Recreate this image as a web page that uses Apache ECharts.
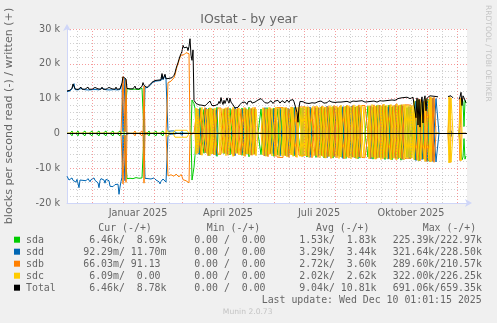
<!DOCTYPE html>
<html><head><meta charset="utf-8">
<script src="https://cdn.jsdelivr.net/npm/echarts@6/dist/echarts.min.js"></script>
<style>html,body{margin:0;padding:0;background:#F0F0F0;overflow:hidden}#c{width:497px;height:323px}</style>
</head><body><div id="c"></div>
<script>
// ---------- data (values in thousands of blocks/s, one value per day starting 2024-11-06) ----------
const startDay = Date.UTC(2024, 10, 6);
const tickLabels = ['Januar 2025', 'April 2025', 'Juli 2025', 'Oktober 2025'];
const tickDates = [Date.UTC(2025,0,16), Date.UTC(2025,3,16), Date.UTC(2025,6,16), Date.UTC(2025,9,16)];

const sdaW = [
0,0,0,0,0,0.7,0,0,0,0, 0,0.7,0,0,0,0,0,0,0.7,0, 0,0,0,0,0,0.7,0,0,0,0, 0,0,0.7,0,0,0,0,0,0,0.7,
0,0,0,0,0,0,0.7,0,0,0, 0,0,0,0.7,0,0,0,0,0,0,
12.9,12.7,12.8,12.7,12.6,12.8,12.7,12.7,12.9,12.7, 12.8,12.7,12.6,12.8,12.9,13.0,12.8,0.4,0,0,
0,0,0.7,0,0,0,0,0,0,0.7, 0,0,0,0,0,0,0.7,0,0,0, 0,0,0,0,0,0,0,0,0,0, 0,0,0,0,0,0,0,0,0,0,
0,0,0,0,0,9.6,9.3,8.5,7.2,0, 0,0,0,7.4,0,0,0,6.9,0,0, 0,0,7.3,0,0,0,7.1,0,0,0, 7.5,0,0,0,0,0,0,7.0,0,0,
0,0,0,7.2,7.4,0,0,0,0,0, 6.9,0,0,0,0,7.3,0,0,0,7.1, 0,0,7.5,0,0,0,0,7.0,0,0, 0,0,0,0,7.0,7.2,0,0,0,0,
7.4,0,0,0,6.9,0,0,7.3,0,0, 0,7.1,0,0,6.8,0,0,0,7.2,0, 0,0,0,7.0,0,0,0,7.4,0,0, 0,0,0,0,7.3,0,0,0,0,0,
7.5,0,0,0,7.1,0,0,0,0,7.3, 0,0,0,0,7.6,0,0,7.2,0,0, 0,0,7.4,0,0,0,7.7,0,0,0, 0,7.3,0,0,0,7.5,0,0,0,7.8,
0,0,0,7.4,0,0,0,0,7.6,0, 0,7.9,0,0,0,0,0,0,0,0, 0,7.8,0,0,0,0,7.5,0,0,0, 8.0,0,0,0,0,7.7,0,0,7.9,0,
0,0,8.1,0,0,7.6,0,0,0,0, 0,7.8,0,0,8.2,0,0,0,0,0, 7.4,0,0,0,7.6,0,0,0,9.2,0, 0,0,9.6,0,0,0,9.0,0,0,0,
0,9.8,0,0,0,0,0,0,0,0, 0,0,0,null,null,null,null,null,null,null,
null,0,0,0,0,0,0,null,null,null, null,null,0,0,0,10.0,9.0,2.0,9.5,8.7];
const sdaR = [
0,0,0,0,0,-0.7,0,0,0,0, 0,-0.7,0,0,0,0,0,0,-0.7,0, 0,0,0,0,0,-0.7,0,0,0,0, 0,0,-0.7,0,0,0,0,0,0,-0.7,
0,0,0,0,0,0,-0.7,0,0,0, 0,0,0,-0.7,0,0,0,0,0,0,
-13.0,-12.8,-13.1,-12.9,-13.2,-12.8,-13.0,-12.9,-13.1,-12.7, -13.0,-13.2,-12.9,-13.0,-13.1,-12.8,-13.0,-0.4,0,0,
0,0,-0.7,0,0,0,0,0,0,-0.7, 0,0,0,0,0,0,-0.7,0,0,0, 0,0,0,0,0,0,0,0,0,0, 0,0,0,0,0,0,0,0,0,0,
0,0,0,0,0,-13.4,-13.0,-9.7,-6.3,0, 0,0,0,-6.1,0,0,0,-5.7,0,0, 0,0,-6.4,0,0,0,-5.9,0,0,0, -6.6,0,0,0,0,0,0,-5.8,0,0,
0,0,0,-6.2,-6.5,0,0,0,0,0, -5.6,0,0,0,0,-6.3,0,0,0,-6.0, 0,0,-6.7,0,0,0,0,-5.9,0,0, 0,0,0,0,-6.1,-6.2,0,0,0,0,
-6.4,0,0,0,-5.8,0,0,-6.6,0,0, 0,-6.2,0,0,-6.0,0,0,0,-6.3,0, 0,0,0,-5.7,0,0,0,-6.5,0,0, 0,0,0,0,-6.4,0,0,0,0,0,
-6.8,0,0,0,-6.1,0,0,0,0,-6.9, 0,0,0,0,-6.3,0,0,-7.0,0,0, 0,0,-6.6,0,0,0,-7.1,0,0,0, 0,-6.4,0,0,0,-6.9,0,0,0,-7.2,
0,0,0,-6.5,0,0,0,0,-7.0,0, 0,-7.3,0,0,0,0,0,0,0,0, 0,-6.8,0,0,0,0,-7.4,0,0,0, -7.1,0,0,0,0,-6.9,0,0,-7.5,0,
0,0,-7.2,0,0,-7.6,0,0,0,0, 0,-7.3,0,0,-7.7,0,0,0,0,0, -6.9,0,0,0,-7.0,0,0,0,-7.6,0, 0,0,-7.9,0,0,0,-7.4,0,0,0,
0,-8.0,0,0,0,0,0,0,0,0, 0,0,0,null,null,null,null,null,null,null,
null,0,0,0,0,0,0,null,null,null, null,null,0,0,0,-7.6,-6.8,-1.5,-7.4,-6.5];

const sddW = [
12.0,12.3,12.4,12.2,12.5,12.8,13.6,14.3,12.6,12.5, 12.5,12.5,12.4,12.6,12.9,12.6,12.5,12.6,12.5,12.6,
12.5,13.0,12.6,12.5,12.5,12.5,12.6,12.6,12.9,12.6, 12.5,12.6,12.5,12.5,12.5,13.0,12.6,12.5,12.6,12.5,
12.5,12.5,12.9,12.6,12.5,12.6,12.5,12.6,12.5,13.0, 12.5,12.6,12.5,12.6,12.7,14.2,0.5,0.8,15.8,0.4,
0,0,0,0,0,0,0,0,0,0, 0,0,0,0,0,0,0,0,13.1,13.1,
13.0,13.2,13.4,13.8,14.2,14.5,14.7,14.9,15.0,15.0, 15.1,15.1,15.2,15.3,15.2,16.8,15.4,15.6,16.6,15.5,
15.4,0.5,0,0,0.7,0.7,0.7,0.7,0.7,0.7, 0,0,0,0,0,0.6,0,0,0,0, 0,0,0,0,0,0,0,0,0,0,
0,0,7.0,0,0,0.8,0,0,0,7.3, 0,0,0,0,0,0.8,0,0,0,6.8, 0,0,0,0,0,0,0,0,0.8,0, 7.2,0,0,0,0,0,0.8,0,7.5,0,
0,0,0,0,0,0,6.9,0,0,0, 0.8,0,0,0,7.1,0,0,0,0,0, 0,0,0,0,0,0,0,0,7.4,0, 0,0,0.8,0,0,0,7.0,0,0,0,
0,0,0,7.3,0,0.8,0,0,0,0, 0,7.2,0,0,0,0,0.8,0,7.5,0, 0,0,0,0,0,0,7.4,0,0,0, 0,0,0,7.6,0,0,0.8,0,0,0,
0,0,7.3,0,0,0,0.8,0,0,0, 7.8,0,0,0,0,0,0.8,0,7.4,0, 0,0,0,0,0,0,7.7,0,0,0, 0,0.8,0,0,0,7.9,0,0,0,0,
0.8,0,0,7.5,0,0,0,0,0,0, 0,0,0,0,7.8,0,0.8,0,0,0, 0,0,8.1,0,0,0,0,0,0.8,0, 0,7.6,0,0,0,0,0,0,8.0,0,
0,0.8,0,0,0,0,7.9,0,0,0, 0,0,7.7,0,0.8,0,0,0,0,9.3, 0,0,0,0,0,9.7,0,0,0,0, 9.1,0,0,0,0,0,10.2,0,0,10.0,
9.8,10.1,0,null,null,null,null,null,null,null, null,0,0,0,0.8,0,0,null,null,null, null,null,0,0,0,0,0,0,0,0];
const sddR = [
-12.3,-12.6,-13.4,-12.9,-13.6,-12.8,-13.5,-13.0,-13.8,-14.0, -13.2,-13.6,-15.6,-13.4,-13.2,-13.0,-13.5,-13.3,-13.1,-13.6,
-13.4,-13.0,-13.2,-13.9,-13.3,-13.1,-13.4,-12.8,-13.5,-13.2, -13.9,-14.2,-15.6,-13.6,-13.0,-13.3,-13.1,-13.4,-14.3,-13.2,
-12.8,-13.2,-13.6,-15.2,-15.0,-14.8,-15.3,-14.9,-14.7,-15.2, -15.0,-14.6,-17.5,-15.4,-13.8,-12.6,-0.5,-0.8,-13.6,-0.4,
0,0,0,0,0,0,0,0,0,0, 0,0,0,0,0,0,0,0,-12.9,-13.1,
-12.8,-13.0,-13.2,-12.9,-13.1,-13.3,-13.0,-12.8,-13.1,-13.4, -13.2,-13.6,-13.9,-14.5,-13.8,-13.4,-13.1,-13.0,-13.6,-14.0,
-13.8,-0.5,0,0,-0.2,-0.2,-0.2,-0.2,-0.2,-0.2, 0,0,0,0,0,-0.6,0,0,0,0, 0,0,0,0,0,0,0,0,0,0,
0,0,-6.0,0,0,-0.9,0,0,0,-5.6, 0,0,0,0,0,-0.9,0,0,0,-6.3, 0,0,0,0,0,0,0,0,-0.9,0, -5.9,0,0,0,0,0,-0.9,0,-6.4,0,
0,0,0,0,0,0,-5.7,0,0,0, -0.9,0,0,0,-6.2,0,0,0,0,0, 0,0,0,0,0,0,0,0,-6.5,0, 0,0,-0.9,0,0,0,-5.8,0,0,0,
0,0,0,-6.5,0,-0.9,0,0,0,0, 0,-6.6,0,0,0,0,-0.9,0,-6.1,0, 0,0,0,0,0,0,-6.6,0,0,0, 0,0,0,-6.9,0,0,-0.9,0,0,0,
0,0,-6.4,0,0,0,-0.9,0,0,0, -7.0,0,0,0,0,0,-0.9,0,-6.7,0, 0,0,0,0,0,0,-7.2,0,0,0, 0,-0.9,0,0,0,-6.8,0,0,0,0,
-0.9,0,0,-7.1,0,0,0,0,0,0, 0,0,0,0,-7.3,0,-0.9,0,0,0, 0,0,-6.9,0,0,0,0,0,-0.9,0, 0,-7.4,0,0,0,0,0,0,-7.0,0,
0,-0.9,0,0,0,0,-7.5,0,0,0, 0,0,-7.2,0,-0.9,0,0,0,0,-7.8, 0,0,0,0,0,-7.5,0,0,0,0, -8.0,0,0,0,0,0,-8.1,0,0,-8.2,
-8.0,-8.3,0,null,null,null,null,null,null,null, null,0,0,0,-0.9,0,0,null,null,null, null,null,0,0,0,0,0,0,0,0];

const sdbW = [
0,0,0,0,0,0,0,0,0,0, 0,0,0,0,0,0,0,0,0,0, 0,0,0,0,0,0,0,0,0,0, 0,0,0,0,0,0,0,0,0,0, 0,0,0,0,0,0,0,0,0,0,
0,0,0,0,0,0,16.3,15.8,0.5,15.5, 0,0,0,0,0,0,0,0,0.7,0, 0,0,0,0,0,0.7,0,13.6,0.3,0,
0,0,0,0,0,0,0,0,0,0, 0,0,0,0,0,0,0,0,0,0,
0.5,14.6,14.7,14.9,15.0,15.2,15.5,16.0,16.8,18.0, 19.2,20.0,21.0,21.8,22.5,23.0,23.0,22.6,22.8,23.2,
23.0,23.4,22.9,0.6,0,0,0,0,0,0, 7.1,0,0,0,6.8,0,0,0,7.4,0, 0,7.0,0,0,7.3,0,0,6.9,0,0,
0,7.3,7.2,7.4,7.3,7.2,0,0,7.2,0, 0,7.5,0,0,0,6.9,0,7.1,0,0, 0,7.3,0,0,7.0,0,0,0,7.4,0,
0,6.8,0,0,0,7.2,0,0,7.5,0, 0,0,0,0,0,0,0,7.3,0,0, 0,7.0,0,7.4,0,0,0,0,7.2,0,
7.4,7.5,7.3,7.4,7.6,7.5,7.4,0,0,7.5, 0,0,7.1,0,0,7.6,0,0,0,7.3, 0,0,7.6,7.5,7.7,7.6,7.5,7.7,7.6,0,
0,7.7,0,0,0,7.4,0,0,7.8,0, 0,7.5,0,0,0,7.9,0,0,7.6,0, 0,7.8,0,0,7.5,0,0,8.0,0,0,
7.7,0,0,7.9,0,0,0,7.6,0,0, 8.1,0,7.8,0,0,0,8.0,0,0,7.7, 0,0,8.2,0,0,8.0,8.1,7.9,8.0,8.2,
8.0,0,0,7.9,0,0,0,8.2,0,7.8, 0,0,0,8.1,0,0,8.3,0,0,7.9, 0,0,0,8.2,0,0,8.0,0,0,8.4,
0,0,8.1,0,0,8.3,0,0,8.2,8.3, 8.1,8.2,8.3,8.2,8.1,8.3,8.2,0,0,0, 9.5,0,0,9.8,0,0,0,9.3,0,10.0,
0,0,0,10.5,0,10.2,0,10.4,10.1,0, 0,0,0,null,null,null,null,null,null,null,
null,0,0,10.3,0,0,0,null,null,null, null,null,0,10.2,0,0,0,0,0,0];
const sdbR = [
0,0,0,0,0,0,0,0,0,0, 0,0,0,0,0,0,0,0,0,0, 0,0,0,0,0,0,0,0,0,0, 0,0,0,0,0,0,0,0,0,0, 0,0,0,0,0,0,0,0,0,0,
0,0,0,0,0,0,-14.5,-14.0,-0.5,-14.1, 0,0,0,0,0,0,0,0,-0.7,0, 0,0,0,0,0,-0.7,0,-14.3,-0.3,0,
0,0,0,0,0,0,0,0,0,0, 0,0,0,0,0,0,0,0,0,0,
-0.5,-12.2,-11.8,-12.4,-11.9,-12.1,-11.6,-12.3,-12.0,-11.7, -12.2,-11.9,-12.5,-12.1,-11.8,-12.4,-13.3,-13.5,-13.2,-13.6,
-13.4,-14.0,-14.2,-0.5,0,0,0,0,0,0, -5.8,0,0,0,-6.2,0,0,0,-5.5,0, 0,-6.4,0,0,-5.9,0,0,-6.1,0,0,
0,-6.0,-6.1,-5.9,-6.0,-6.1,0,0,-5.7,0, 0,-6.3,0,0,0,-6.0,0,-6.5,0,0, 0,-5.8,0,0,-6.2,0,0,0,-6.6,0,
0,-5.9,0,0,0,-6.3,0,0,-6.1,0, 0,0,0,0,0,0,0,-6.4,0,0, 0,-6.7,0,-6.0,0,0,0,0,-6.6,0,
-6.8,-7.0,-7.1,-6.9,-7.2,-7.0,-6.9,0,0,-6.5, 0,0,-6.9,0,0,-6.2,0,0,0,-6.8, 0,0,-6.3,-6.4,-6.2,-6.3,-6.5,-6.3,-6.4,0,
0,-6.6,0,0,0,-7.0,0,0,-6.4,0, 0,-6.9,0,0,0,-6.5,0,0,-7.1,0, 0,-6.7,0,0,-7.2,0,0,-6.6,0,0,
-7.0,0,0,-6.8,0,0,0,-7.3,0,0, -6.7,0,-7.1,0,0,0,-6.9,0,0,-7.2, 0,0,-6.8,0,0,-6.9,-7.0,-6.8,-7.0,-6.9,
-7.1,0,0,-7.2,0,0,0,-6.9,0,-7.4, 0,0,0,-7.0,0,0,-7.3,0,0,-6.9, 0,0,0,-7.4,0,0,-7.1,0,0,-7.5,
0,0,-7.0,0,0,-7.4,0,0,-7.2,-7.3, -7.2,-7.1,-7.2,-7.3,-7.2,-7.1,-7.2,0,0,0, -7.6,0,0,-7.9,0,0,0,-7.4,0,-8.1,
0,0,0,-8.2,0,-7.9,0,-8.3,-8.0,0, 0,0,0,null,null,null,null,null,null,null,
null,0,0,-8.4,0,0,0,null,null,null, null,null,0,-7.8,0,0,0,0,0,0];

const sdcW = [
0,0,0,0,0,0,0,0,0,0, 0,0,0,0,0,0,0,0,0,0, 0,0,0,0,0,0,0,0,0,0, 0,0,0,0,0,0,0,0,0,0, 0,0,0,0,0,0,0,0,0,0,
0,0,0,0,0,0,0,0,0,0, 0,0,0,0,0,0,0,0,0,0, 0,0,0,0,0,0,0,0,0,0, 0,0,0,0,0,0,0,0,0,0, 0,0,0,0,0,0,0,0,0,0,
0.9,0.9,0.9,0,0,0,0,0,0.9,0.9, 0.9,0.9,0.9,0.9,0.9,0.9,0.9,0.9,0.9,0.9, 0.9,0.9,0,0,0,0,0,0,0,7.3,
0,6.9,0,0,0,7.5,7.2,0,0,0, 7.0,0,0,7.4,0,6.8,0,0,7.3,0, 0,0,0,7.2,0,0,7.1,0,0,7.4,
0,0,6.9,0,0,0,7.5,0,0,7.0, 0,0,7.3,7.1,0,0,0,7.4,0,0, 6.9,0,0,7.2,0,0,7.5,0,0,7.0,
7.3,0,0,0,0,0,7.4,0,0,7.1, 0,0,7.5,0,0,7.2,0,0,0,7.6, 0,0,7.3,0,0,7.4,0,7.5,0,0,
7.2,0,0,0,7.6,0,7.3,0,0,0, 7.5,0,0,7.6,0,7.4,0,7.8,0,7.7, 0,0,7.4,0,0,0,7.8,7.6,0,0,
7.9,0,0,7.5,0,0,7.8,0,0,7.6, 0,0,0,8.0,0,7.7,0,0,0,7.9, 0,0,7.6,0,8.1,0,0,0,7.8,0,
0,8.0,0,0,7.7,0,0,8.2,0,0, 7.9,0,0,0,8.1,0,0,7.7,0,0, 0,0,8.0,0,0,8.3,0,0,7.9,0,
0,8.2,0,0,8.0,0,0,8.4,0,0, 8.1,0,0,0,8.3,0,0,8.0,0,0, 8.5,0,0,8.2,0,0,0,8.4,0,8.0,
0,8.1,0,7.8,0,8.0,0,9.4,0,0, 0,9.8,0,0,9.2,0,0,0,9.9,0, 0,0,9.6,0,10.4,0,0,0,0,0,
0,0,0,null,null,null,null,null,null,null, null,0,10.6,0,10.2,10.5,0,null,null,null, null,null,0,0,10.0,0,0,0,0,0];
const sdcR = [
0,0,0,0,0,0,0,0,0,0, 0,0,0,0,0,0,0,0,0,0, 0,0,0,0,0,0,0,0,0,0, 0,0,0,0,0,0,0,0,0,0, 0,0,0,0,0,0,0,0,0,0,
0,0,0,0,0,0,0,0,0,0, 0,0,0,0,0,0,0,0,0,0, 0,0,0,0,0,0,0,0,0,0, 0,0,0,0,0,0,0,0,0,0, 0,0,0,0,0,0,0,0,0,0,
-0.9,-0.9,-0.9,0,0,0,0,0,-1.1,-1.1, -1.1,-1.1,-1.1,-1.1,-1.1,-1.1,-1.1,-1.1,-1.1,-1.1, -1.1,-1.1,0,0,0,0,0,0,0,-6.0,
0,-5.6,0,0,0,-6.3,-6.1,0,0,0, -5.8,0,0,-6.4,0,-5.9,0,0,-6.2,0, 0,0,0,-6.1,0,0,-5.7,0,0,-6.4,
0,0,-6.0,0,0,0,-6.6,0,0,-5.8, 0,0,-6.2,-6.0,0,0,0,-6.5,0,0, -5.9,0,0,-6.3,0,0,-6.1,0,0,-6.4,
-6.2,0,0,0,0,0,-6.2,0,0,-6.6, 0,0,-6.0,0,0,-6.5,0,0,0,-6.3, 0,0,-6.7,0,0,-6.5,0,-6.4,0,0,
-6.8,0,0,0,-6.2,0,-6.6,0,0,0, -6.9,0,0,-6.6,0,-6.8,0,-6.5,0,-6.5, 0,0,-6.9,0,0,0,-6.6,-6.8,0,0,
-6.4,0,0,-7.0,0,0,-6.7,0,0,-7.1, 0,0,0,-6.6,0,-7.0,0,0,0,-6.8, 0,0,-7.2,0,-6.7,0,0,0,-7.1,0,
0,-6.9,0,0,-7.3,0,0,-6.8,0,0, -7.2,0,0,0,-7.0,0,0,-6.9,0,0, 0,0,-7.3,0,0,-6.9,0,0,-7.4,0,
0,-7.1,0,0,-7.5,0,0,-7.0,0,0, -7.3,0,0,0,-7.6,0,0,-7.2,0,0, -7.5,0,0,-7.1,0,0,0,-7.6,0,-7.0,
0,-7.2,0,-6.9,0,-7.1,0,-7.5,0,0, 0,-7.8,0,0,-7.3,0,0,0,-8.0,0, 0,0,-7.7,0,-8.2,0,0,0,0,0,
0,0,0,null,null,null,null,null,null,null, null,0,-8.5,0,-8.3,-8.6,0,null,null,null, null,null,0,0,-7.9,0,0,0,0,0];

const totalW = [
12.2,12.4,12.5,12.4,12.6,13.0,14.2,14.7,12.8,12.6, 12.7,12.6,12.6,12.7,13.3,12.7,12.6,12.7,12.7,12.8,
12.7,13.3,12.7,12.7,12.6,12.7,12.8,12.7,13.2,12.7, 12.7,12.8,12.7,12.6,12.7,13.3,12.7,12.7,12.8,12.7,
12.7,12.6,13.2,12.7,12.7,12.8,12.7,12.8,12.7,13.3, 12.7,12.8,12.7,12.8,12.9,14.5,16.3,15.9,16.1,15.6,
12.9,12.8,12.9,12.8,12.8,12.9,12.8,12.8,13.6,12.8, 12.9,12.8,12.8,12.9,13.0,13.5,14.6,13.8,13.3,13.3,
13.2,13.4,13.6,14.0,14.4,14.7,14.9,15.1,15.2,15.2, 15.3,15.3,15.4,15.5,15.4,17.2,15.6,15.8,17.0,15.7,
15.6,15.2,15.8,16.2,15.5,16.0,16.3,16.7,17.4,18.6, 19.5,20.3,21.3,22.2,22.9,23.6,25.3,24.6,24.3,24.6,
24.8,23.8,25.0,27.2,22.5,21.0,24.0,9.5,9.0,8.6, 8.3,8.5,8.2,8.0,8.4,8.1,8.6,8.3,7.9,8.2,
8.5,8.8,8.4,9.3,8.6,8.0,7.9,7.8,8.0,7.9, 8.1,8.4,9.2,8.6,10.3,9.1,8.3,9.5,8.6,8.4,
10.2,9.3,8.7,10.1,9.0,8.5,8.2,7.8,7.3,7.6, 7.1,7.5,7.9,8.3,8.6,8.9,8.4,8.7,9.0,8.5,
8.3,9.1,8.8,8.6,9.3,8.7,8.4,8.9,9.0,8.6, 8.5,9.6,9.8,9.9,10.0,9.6,9.4,9.1,8.8,9.3,
9.0,8.7,9.2,8.9,9.4,9.1,8.6,9.0,9.3,8.8, 9.2,9.5,9.0,8.7,9.1,9.4,8.9,9.2,8.8,9.0,
9.6,9.3,8.9,9.5,9.0,9.3,9.7,9.1,8.8,9.4, 6.0,3.2,7.5,9.2,9.0,8.8,9.1,9.3,8.9,8.7,
9.2,9.0,8.6,8.9,9.1,8.8,9.3,9.0,8.7,9.2, 8.9,9.1,8.8,9.0,9.3,8.9,9.1,8.7,9.0,9.2,
8.8,9.1,9.4,9.0,9.2,9.0,9.3,9.1,8.9,9.2, 9.4,9.0,9.1,9.3,9.0,9.2,8.9,9.1,9.3,9.0,
9.2,9.4,9.1,8.9,9.2,9.0,9.3,9.1,9.4,9.2, 8.9,9.1,9.3,9.0,9.2,9.4,9.1,9.3,9.0,9.2,
9.5,9.1,9.3,9.0,9.2,9.4,9.1,9.3,9.5,9.2, 9.0,9.3,9.1,9.4,9.2,9.5,9.3,9.6,9.2,9.4,
9.7,9.3,9.5,9.8,9.4,9.6,9.3,9.7,9.5,9.8, 9.6,10.0,10.3,9.9,10.2,10.4,10.0,10.3,9.8,10.1,
10.4,10.2,10.5,10.0,10.3,10.1,10.4,9.9,10.9,4.5, 10.2,2.4,9.8,1.8,8.5,10.5,3.0,9.6,10.8,6.5,
10.2,10.6,10.3,10.8,10.5,11.0,10.7,10.9,10.4,10.6, 10.3,10.5,null,null,null,null,null,null,null,null,
null,10.6,10.9,10.4,10.8,10.5,10.2,null,null,null, null,null,9.8,10.5,11.8,8.0,10.8,10.2,9.5,8.8];

// legend table
const legendNames = ['sda', 'sdd', 'sdb', 'sdc', 'Total'];
const legendCur = ['  6.46k/  8.69k', ' 92.29m/ 11.70m', ' 66.03m/ 91.13 ', '  6.09m/  0.00 ', '  6.46k/  8.78k'];
const legendMin = ['  0.00 /  0.00 ', '  0.00 /  0.00 ', '  0.00 /  0.00 ', '  0.00 /  0.00 ', '  0.00 /  0.00 '];
const legendAvg = ['  1.53k/  1.83k', '  3.29k/  3.44k', '  2.72k/  3.60k', '  2.02k/  2.62k', '  9.04k/ 10.81k'];
const legendMax = ['225.39k/222.97k', '321.64k/228.50k', '289.60k/210.57k', '322.00k/226.25k', '691.06k/659.35k'];
const legendHeads = ['Cur (-/+)', 'Min (-/+)', 'Avg (-/+)', 'Max (-/+)'];
const lastUpdate = 'Last update: Wed Dec 10 01:01:15 2025';
const titleText = 'IOstat - by year';
const yName = 'blocks per second read (-) / written (+)';

// ---------- styles / layout ----------
const colors = {sda:'#00CC00', sdd:'#0066B3', sdb:'#FF8000', sdc:'#FFCC00', Total:'#000000'};
const FONT = '"DejaVu Sans"';
const MONO = '"DejaVu Sans Mono"';
const DAY = 864e5;
const dayIdx = t => (t - startDay) / DAY;
const tickDays = tickDates.map(dayIdx);

const majorX = [], minorX = [];
for (let k = 0; k < 15; k++) {
  const a = dayIdx(Date.UTC(2024, 10 + k, 1)); if (a > 0 && a < 400) majorX.push(a);
  const b = dayIdx(Date.UTC(2024, 10 + k, 16)); if (b > 0 && b < 400) minorX.push(b);
}

const pts = arr => arr.map((v, i) => [i, v]);
function lineSeries(name, arr, color, z) {
  return {type:'line', name, data: pts(arr), showSymbol:false, symbol:'none', connectNulls:false,
    lineStyle:{color, width:1}, itemStyle:{color}, z, silent:true, animation:false, emphasis:{disabled:true}};
}

const gridMarks = {
  type:'line', data:[], z:1, silent:true, animation:false,
  markLine:{silent:true, symbol:['none','none'], label:{show:false}, animation:false,
    data: minorX.map(x => ({xAxis:x, lineStyle:{color:'rgba(150,150,150,0.45)', type:[1,2], width:1}}))
      .concat(majorX.map(x => ({xAxis:x, lineStyle:{color:'rgba(240,90,90,0.6)', type:[1,2], width:1}})))}
};

const totalSeries = lineSeries('Total', totalW, colors.Total, 4);
totalSeries.markLine = {silent:true, symbol:['none','none'], label:{show:false}, animation:false,
  data:[{yAxis:0, lineStyle:{color:'#000', type:'solid', width:1}}]};

const graphics = [];
graphics.push({type:'text', x:248.8, y:20, style:{text:titleText, font:'12.5px ' + FONT, fill:'#666', textAlign:'center', textVerticalAlign:'middle'}});
graphics.push({type:'text', x:9, y:116, rotation:Math.PI/2, style:{text:yName, font:'11.1px ' + FONT, fill:'#666', textAlign:'center', textVerticalAlign:'middle'}});
graphics.push({type:'text', x:487.6, y:53.4, rotation:-Math.PI/2, style:{text:'RRDTOOL / TOBI OETIKER', font:'7.5px ' + FONT, fill:'#C4C4C4', textAlign:'center', textVerticalAlign:'middle'}});
graphics.push({type:'text', x:247.7, y:312, style:{text:'Munin 2.0.73', font:'7.6px ' + FONT, fill:'#C4C4C4', textAlign:'center', textVerticalAlign:'middle'}});
const headX = [98.3, 206.7, 316, 422.7];
legendHeads.forEach((h, i) => graphics.push({type:'text', x:headX[i], y:228, style:{text:h, font:'9.9px ' + MONO, fill:'#666', textAlign:'left', textVerticalAlign:'middle'}}));
const colX = [77.3, 182.3, 287.3, 392.7];
legendNames.forEach((n, r) => {
  const y = 240.2 + r * 12;
  graphics.push({type:'rect', shape:{x:14, y:y - 3.5, width:6, height:6}, style:{fill:colors[n]}});
  graphics.push({type:'text', x:26, y, style:{text:n, font:'9.9px ' + MONO, fill:'#666', textAlign:'left', textVerticalAlign:'middle'}});
  [legendCur, legendMin, legendAvg, legendMax].forEach((col, c) =>
    graphics.push({type:'text', x:colX[c], y, style:{text:col[r], font:'9.9px ' + MONO, fill:'#666', textAlign:'left', textVerticalAlign:'middle'}}));
});
graphics.push({type:'text', x:261.7, y:300, style:{text:lastUpdate, font:'9.9px ' + MONO, fill:'#666', textAlign:'left', textVerticalAlign:'middle'}});

const chart = echarts.init(document.getElementById('c'), null, {renderer:'canvas'});
chart.setOption({
  backgroundColor:'#F0F0F0',
  animation:false,
  grid:{left:67, top:29, width:400, height:174, show:true, backgroundColor:'#FFFFFF', borderWidth:0, containLabel:false},
  xAxis:{type:'value', min:0, max:400,
    axisLine:{show:true, onZero:false, lineStyle:{color:'#CFD6F8', width:1}, symbol:['none','arrow'], symbolSize:[6,7], symbolOffset:[0,5]},
    axisTick:{show:false}, splitLine:{show:false},
    axisLabel:{customValues:tickDays, color:'#666', fontSize:9.7, fontFamily:'DejaVu Sans', margin:5,
      formatter: v => { const k = tickDays.findIndex(t => Math.abs(t - v) < 0.01); return k >= 0 ? tickLabels[k] : ''; }}},
  yAxis:{type:'value', min:-20, max:30, interval:10,
    axisLine:{show:true, onZero:false, lineStyle:{color:'#CFD6F8', width:1}, symbol:['none','arrow'], symbolSize:[6,7], symbolOffset:[0,5]},
    axisTick:{show:false},
    axisLabel:{color:'#666', fontSize:9.7, fontFamily:'DejaVu Sans', margin:7, formatter: v => v === 0 ? '0' : v + ' k'},
    splitLine:{show:true, lineStyle:{color:'rgba(240,90,90,0.6)', type:[1,2], width:1}},
    minorTick:{show:false, splitNumber:5},
    minorSplitLine:{show:true, lineStyle:{color:'rgba(150,150,150,0.45)', type:[1,2], width:1}}},
  series:[
    gridMarks,
    lineSeries('sda-', sdaR, colors.sda, 2), lineSeries('sda+', sdaW, colors.sda, 2),
    lineSeries('sdd-', sddR, colors.sdd, 2), lineSeries('sdd+', sddW, colors.sdd, 2),
    lineSeries('sdb-', sdbR, colors.sdb, 2), lineSeries('sdb+', sdbW, colors.sdb, 2),
    lineSeries('sdc-', sdcR, colors.sdc, 2), lineSeries('sdc+', sdcW, colors.sdc, 2),
    totalSeries
  ],
  graphic:{elements:graphics}
});
</script></body></html>
